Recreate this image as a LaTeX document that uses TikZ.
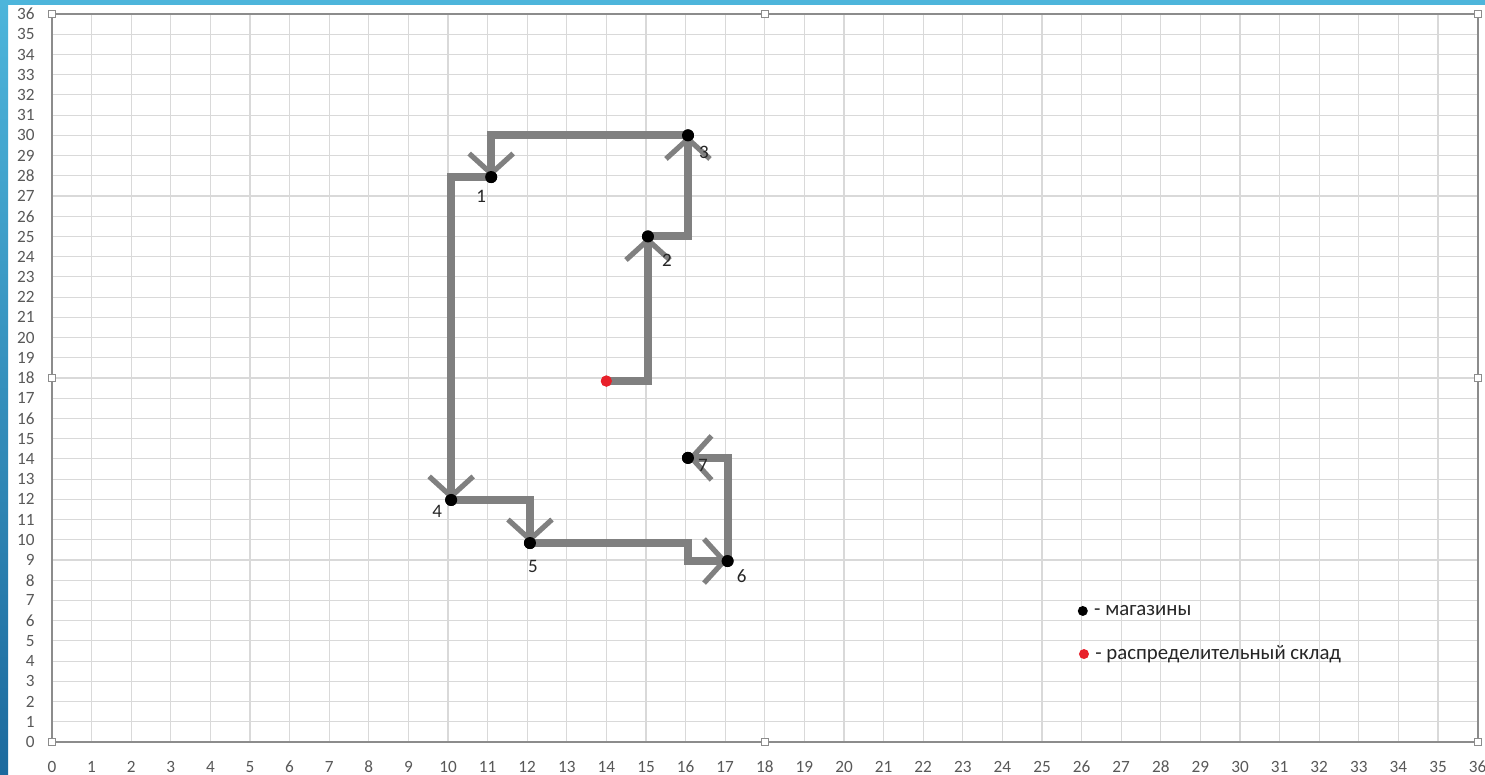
\documentclass[tikz,border=0pt]{standalone}
\usepackage{fontspec}
\setmainfont{Carlito}
\usetikzlibrary{arrows.meta,calc}
\definecolor{gridc}{HTML}{D9D9D9}
\definecolor{axisc}{HTML}{8C8C8C}
\definecolor{labc}{HTML}{595959}
\definecolor{txtc}{HTML}{262626}
\definecolor{routec}{HTML}{808080}
\definecolor{whred}{HTML}{E8202A}
\definecolor{blueA}{HTML}{4DB5DB}
\definecolor{blueB}{HTML}{1C6A9E}
\tikzset{
  gridline/.style={draw=gridc,line width=0.55pt},
  axisline/.style={draw=axisc,line width=0.9pt},
  axlab/.style={font=\fontsize{8.6}{9}\selectfont,text=labc,inner sep=0pt},
  handle/.style={draw=axisc,fill=white,line width=0.5pt,minimum size=3.6pt,inner sep=0pt},
  shop/.style={circle,fill=black,inner sep=0pt,minimum size=6pt},
  depot/.style={circle,fill=whred,inner sep=0pt,minimum size=5.6pt},
  route/.style={draw=routec,line width=4pt,line join=miter},
  routearrow/.style={route,-{Straight Barb[length=10pt,width=22pt,line width=2.6pt]}},
  numlab/.style={font=\fontsize{9.5}{11}\selectfont,text=txtc,inner sep=0pt},
  legtext/.style={font=\fontsize{10.4}{12}\selectfont,text=txtc,inner sep=0pt,anchor=west},
}
\begin{document}
\begin{tikzpicture}
\useasboundingbox (0,0) rectangle (742.5pt,387.5pt);
\fill[white] (0,0) rectangle (742.5pt,387.5pt);
\begin{scope}[shift={(26pt,16.5pt)},x=19.8pt,y=10.11pt]
  \foreach \i in {1,...,35} {
    \draw[gridline] (\i,0) -- (\i,36);
    \draw[gridline] (0,\i) -- (36,\i);
  }
  \draw[axisline] (0,0) rectangle (36,36);
  \foreach \i in {0,...,36} {
    \node[axlab,anchor=east] (yl\i) at ([xshift=-8.5pt]0,\i) {\i};
    \node[axlab] (xl\i) at ([yshift=-12.5pt]\i,0) {\i};
  }
  \foreach \hx/\hy [count=\k] in {0/0,18/0,36/0,0/18,36/18,0/36,18/36,36/36}
    \node[handle] (h\k) at (\hx,\hy) {};
  % points
  \node[depot] (w) at (14,17.85) {};
  \node[shop] (p1) at (11.09,27.94) {};
  \node[shop] (p2) at (15.05,25) {};
  \node[shop] (p3) at (16.06,30) {};
  \node[shop] (p4) at (10.08,11.97) {};
  \node[shop] (p5) at (12.07,9.84) {};
  \node[shop] (p6) at (17.06,8.95) {};
  \node[shop] (p7) at (16.06,14.05) {};
  \coordinate (c56) at (16.05,8.95);
  % route
  \draw[routearrow] (w.center) -| (p2.center);
  \draw[routearrow] (p2.center) -| (p3.center);
  \draw[routearrow] (p3.center) -| (p1.center);
  \draw[routearrow] ([xshift=2pt]p1.center) -| (p4.center);
  \draw[routearrow] (p4.center) -| (p5.center);
  \draw[routearrow] (p5.center) -| (c56) -- (p6.center);
  \draw[routearrow] (p6.center) |- (p7.center);
  % redraw dots on top
  \foreach \p in {p1,p2,p3,p4,p5,p6,p7}
    \fill[black] (\p) circle (3pt);
  \fill[whred] (w) circle (2.8pt);
  % point labels
  \node[numlab] (l1) at ([shift={(-5pt,-9.5pt)}]p1.center) {1};
  \node[numlab] (l2) at ([shift={(9.5pt,-12pt)}]p2.center) {2};
  \node[numlab] (l3) at ([shift={(8pt,-8.5pt)}]p3.center) {3};
  \node[numlab] (l4) at ([shift={(-7pt,-5.5pt)}]p4.center) {4};
  \node[numlab] (l5) at ([shift={(1.5pt,-11.5pt)}]p5.center) {5};
  \node[numlab] (l6) at ([shift={(7pt,-7.5pt)}]p6.center) {6};
  \node[numlab] (l7) at ([shift={(7.5pt,-4pt)}]p7.center) {7};
  % legend
  \node[shop,minimum size=5pt] (ls) at (26.03,6.48) {};
  \node[depot,minimum size=5pt] (ld) at (26.06,4.35) {};
  \node[legtext] (lst) at ([xshift=5.5pt]ls.center) {- магазины};
  \node[legtext] (ldt) at ([xshift=5.5pt]ld.center) {- распределительный склад};
\end{scope}
% blue frame bars
\fill[blueA] (0,385pt) rectangle (742.5pt,387.5pt);
\shade[top color=blueA,bottom color=blueB] (0,0) rectangle (4pt,387.5pt);
\end{tikzpicture}
\end{document}
